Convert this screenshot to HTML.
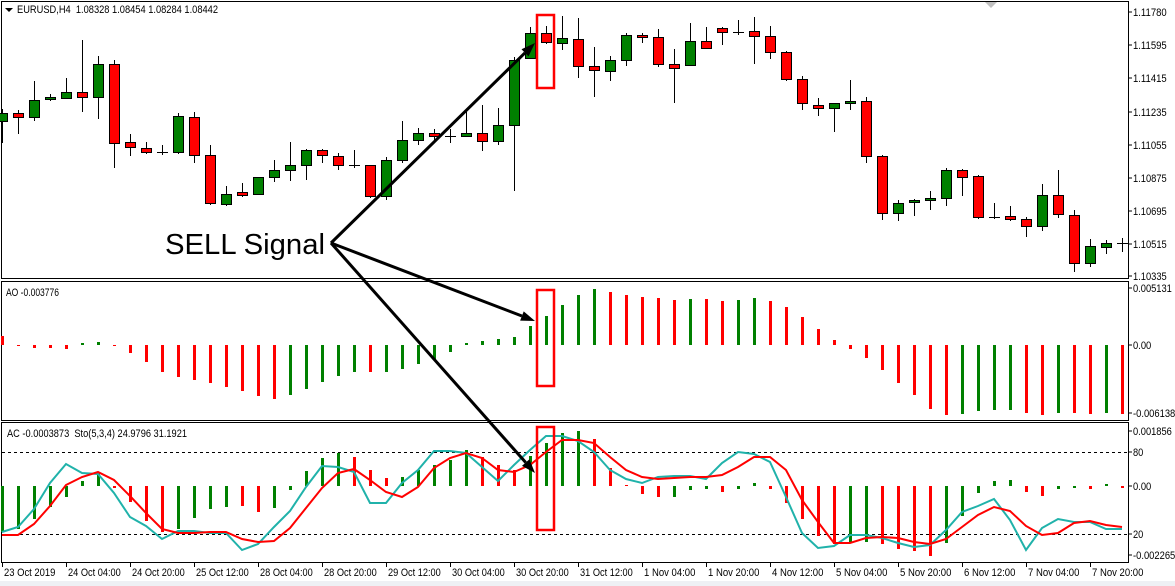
<!DOCTYPE html>
<html><head><meta charset="utf-8">
<style>
html,body{margin:0;padding:0;background:#fff;}
svg{display:block;font-family:"Liberation Sans",Tahoma,sans-serif;}
</style></head>
<body>
<svg id="c" width="1175" height="586" viewBox="0 0 1175 586" xmlns="http://www.w3.org/2000/svg">
<rect x="0" y="0" width="1175" height="586" fill="#fff"/>
<rect x="0" y="581" width="1175" height="5" fill="#eef0f4"/>
<g id="g"></g>
</svg>
<script>
const C=[
[109,113,121,143,'g'],[110,113,117,134,'r'],[81,100,117,121,'g'],[94,97,99,101,'g'],[78,92,98,98,'g'],
[40,92,97,112,'r'],[56,64,97,119,'g'],[60,64,143,168,'r'],[134,142,147,156,'r'],[142,148,152,154,'r'],
[145,152,152,155,'d'],[113,116,152,154,'g'],[112,117,155,163,'r'],[145,155,203,205,'r'],[186,194,204,206,'g'],
[183,192,195,197,'r'],[177,177,194,195,'g'],[160,170,177,182,'g'],[142,165,170,181,'g'],[149,150,165,180,'g'],
[149,150,155,163,'r'],[153,156,165,170,'r'],[150,165,165,168,'d'],[165,165,196,198,'r'],[157,160,196,200,'g'],
[121,140,160,163,'g'],[128,133,140,145,'g'],[129,133,136,143,'r'],[129,136,136,143,'d'],[112,133,136,137,'g'],
[105,133,141,151,'r'],[108,125,141,145,'g'],[57,60,125,191,'g'],[27,33,58,58,'g'],[26,33,42,44,'r'],
[16,38,43,50,'g'],[18,39,66,78,'r'],[47,66,70,97,'r'],[56,60,71,81,'g'],[33,35,60,66,'g'],
[33,35,37,43,'r'],[29,37,64,67,'r'],[49,64,68,103,'r'],[23,41,65,65,'g'],[27,41,48,48,'r'],
[27,28,32,45,'r'],[20,32,32,35,'d'],[17,31,36,64,'r'],[26,36,52,59,'r'],[51,52,79,81,'r'],
[76,79,103,110,'r'],[98,105,108,116,'r'],[103,103,108,132,'g'],[80,101,103,110,'g'],[97,101,156,163,'r'],
[155,156,213,220,'r'],[200,203,213,221,'g'],[199,200,202,216,'g'],[191,198,200,210,'g'],[168,170,198,206,'g'],
[169,170,177,196,'r'],[175,176,217,219,'r'],[203,217,217,219,'d'],[206,216,219,221,'r'],[217,219,226,237,'r'],
[184,195,226,231,'g'],[170,195,214,218,'r'],[210,215,263,272,'r'],[239,246,263,267,'g'],[240,243,247,254,'g'],
[238,243,243,252,'d']];
const AO=[[336,'r'],[346,'r'],[348,'r'],[348,'r'],[349,'r'],[343,'g'],[342,'g'],[346,'r'],[353,'r'],[362,'r'],
[372,'r'],[377,'r'],[380,'r'],[383,'r'],[387,'r'],[391,'r'],[396,'r'],[399,'r'],[395,'g'],[389,'g'],
[382,'g'],[376,'g'],[372,'g'],[372,'r'],[372,'g'],[369,'g'],[364,'g'],[359,'g'],[352,'g'],[343,'g'],
[341,'g'],[339,'g'],[337,'g'],[326,'g'],[316,'g'],[305,'g'],[295,'g'],[289,'g'],[292,'r'],[295,'r'],
[297,'r'],[298,'r'],[300,'r'],[299,'g'],[299,'r'],[301,'r'],[300,'g'],[298,'g'],[301,'r'],[307,'r'],
[317,'r'],[329,'r'],[340,'r'],[349,'r'],[358,'r'],[370,'r'],[383,'r'],[395,'r'],[409,'r'],[415,'r'],
[414,'g'],[411,'g'],[410,'g'],[410,'g'],[413,'r'],[415,'r'],[413,'g'],[413,'r'],[414,'r'],[413,'g'],[414,'r']];
const AC=[[532,'g'],[529,'g'],[519,'g'],[507,'g'],[497,'g'],[481,'g'],[473,'g'],[488,'r'],[502,'r'],[521,'r'],
[532,'r'],[529,'g'],[518,'g'],[509,'g'],[507,'g'],[506,'r'],[512,'r'],[508,'g'],[490,'g'],[471,'g'],
[458,'g'],[453,'g'],[457,'r'],[470,'r'],[478,'r'],[477,'g'],[470,'g'],[465,'g'],[460,'g'],[450,'g'],
[457,'r'],[465,'r'],[470,'r'],[456,'g'],[443,'g'],[433,'g'],[431,'g'],[439,'r'],[468,'r'],[485,'r'],
[494,'r'],[497,'r'],[497,'g'],[490,'g'],[489,'g'],[492,'r'],[489,'g'],[483,'g'],[489,'r'],[503,'r'],
[519,'r'],[536,'r'],[544,'r'],[542,'g'],[542,'g'],[544,'r'],[549,'r'],[551,'r'],[556,'r'],[543,'g'],
[516,'g'],[493,'g'],[481,'g'],[480,'g'],[492,'r'],[496,'r'],[489,'g'],[488,'g'],[489,'r'],[484,'g'],[488,'r']];
const T=[532,527,509,483,464,473,474,493,517,526,539,531,531,533,533,550,544,527,511,487,466,467,472,503,503,
483,470,451,451,453,467,481,465,450,436,436,441,452,470,479,483,477,476,476,479,463,452,454,462,497,
533,548,546,535,535,538,543,547,545,530,512,506,499,520,550,528,519,522,522,529,529];
const R=[535,535,524,506,485,477,472,480,496,513,529,533,533,532,532,539,542,541,528,508,488,473,469,480,492,
497,487,468,458,453,458,470,472,465,452,440,440,443,457,470,477,479,478,477,477,475,467,457,457,470,
500,522,543,543,538,537,538,542,544,539,527,515,507,511,526,535,533,523,521,525,527];
let s='';
const X=k=>2+16*k;
const col=c=>c=='g'?'#008000':'#ff0000';
const tx=(x,y,t,w)=>{s+=`<text x="${x}" y="${y}" font-size="11" fill="#000" textLength="${w||t.length*4.45}" lengthAdjust="spacingAndGlyphs" xml:space="preserve">${t}</text>`;};
s+='<rect x="1.5" y="1.5" width="1127" height="277" fill="none" stroke="#000"/>';
s+='<rect x="1.5" y="281.5" width="1127" height="139" fill="none" stroke="#000"/>';
s+='<rect x="1.5" y="422.5" width="1127" height="140" fill="none" stroke="#000"/>';
s+='<polygon points="985,2 997,2 991,8" fill="#c0c0c0"/>';
C.forEach((c,k)=>{const x=X(k);
s+=`<line x1="${x+.5}" y1="${c[0]}" x2="${x+.5}" y2="${c[3]}" stroke="#000"/>`;
if(c[4]=='d'||c[2]-c[1]<1){s+=`<line x1="${x-5}" y1="${c[1]+.5}" x2="${x+6}" y2="${c[1]+.5}" stroke="#000"/>`;}
else s+=`<rect x="${x-4.5}" y="${c[1]+.5}" width="10" height="${c[2]-c[1]}" fill="${col(c[4])}" stroke="#000"/>`;
});
AO.forEach((a,k)=>{const x=X(k)-1;const y0=345;const t=Math.min(a[0],y0),h=Math.max(1,Math.abs(a[0]-y0));
s+=`<rect x="${x}" y="${t}" width="3" height="${h}" fill="${col(a[1])}"/>`;});
s+='<line x1="2" y1="452.5" x2="1128" y2="452.5" stroke="#000" stroke-dasharray="3,3"/>';
s+='<line x1="2" y1="534.5" x2="1128" y2="534.5" stroke="#000" stroke-dasharray="3,3"/>';
AC.forEach((a,k)=>{const x=X(k)-1;const y0=486;const t=Math.min(a[0],y0),h=Math.max(1,Math.abs(a[0]-y0));
s+=`<rect x="${x}" y="${t}" width="3" height="${h}" fill="${col(a[1])}"/>`;});
s+=`<polyline points="${T.map((y,k)=>X(k)+','+y).join(' ')}" fill="none" stroke="#20b2aa" stroke-width="2"/>`;
s+=`<polyline points="${R.map((y,k)=>X(k)+','+y).join(' ')}" fill="none" stroke="#ff0000" stroke-width="2"/>`;
const lw=t=>{let w=0;for(const ch of t){w+= ch=='.'?2.8:ch=='-'?3.4:5.15;}return w;};
const lab=(y,t)=>{s+=`<line x1="1129" y1="${y}" x2="1132" y2="${y}" stroke="#000"/>`;tx(1133,y+4,t,lw(t));};
[[12,'1.11780'],[45,'1.11595'],[78,'1.11415'],[112,'1.11235'],[145,'1.11055'],[178,'1.10875'],[211,'1.10695'],[244,'1.10515'],[276,'1.10335'],
[288,'0.005131'],[345,'0.00'],[413,'-0.006138'],[431,'0.001856'],[452,'80'],[486,'0.00'],[534,'20'],[555,'-0.002265']].forEach(l=>lab(l[0],l[1]));
const D=['23 Oct 2019','24 Oct 04:00','24 Oct 20:00','25 Oct 12:00','28 Oct 04:00','28 Oct 20:00','29 Oct 12:00','30 Oct 04:00','30 Oct 20:00','31 Oct 12:00','1 Nov 04:00','1 Nov 20:00','4 Nov 12:00','5 Nov 04:00','5 Nov 20:00','6 Nov 12:00','7 Nov 04:00','7 Nov 20:00'];
D.forEach((d,i)=>{const x=2+64*i;s+=`<line x1="${x+.5}" y1="563" x2="${x+.5}" y2="567" stroke="#000"/>`;tx(x+2,576,d,d.length*4.4+(d.length<12?3:0));});
s+='<polygon points="5,8 13,8 9,12" fill="#000"/>';
tx(17,13,'EURUSD,H4  1.08328 1.08454 1.08284 1.08442',201);
tx(6,296,'AO -0.003776',53);
tx(7,437,'AC -0.0003873  Sto(5,3,4) 24.9796 31.1921',180);
s+='<rect x="537" y="15" width="17" height="73" fill="none" stroke="#ff0000" stroke-width="2.5"/>';
s+='<rect x="537" y="290" width="17" height="96" fill="none" stroke="#ff0000" stroke-width="2.5"/>';
s+='<rect x="537" y="427" width="17" height="103" fill="none" stroke="#ff0000" stroke-width="2.5"/>';
const arr=(x2,y2)=>{const x1=331,y1=243;const a=Math.atan2(y2-y1,x2-x1);const L=14,W=5;
const bx=x2-L*Math.cos(a),by=y2-L*Math.sin(a);
s+=`<line x1="${x1}" y1="${y1}" x2="${bx}" y2="${by}" stroke="#000" stroke-width="3"/>`;
s+=`<polygon points="${x2},${y2} ${bx+W*Math.sin(a)},${by-W*Math.cos(a)} ${bx-W*Math.sin(a)},${by+W*Math.cos(a)}" fill="#000"/>`;};
arr(535,43);arr(535,321);arr(535,473);
s+='<text x="165" y="254" font-size="29" fill="#000" textLength="160" lengthAdjust="spacingAndGlyphs">SELL Signal</text>';
document.getElementById('g').innerHTML=s;
</script>
</body></html>
